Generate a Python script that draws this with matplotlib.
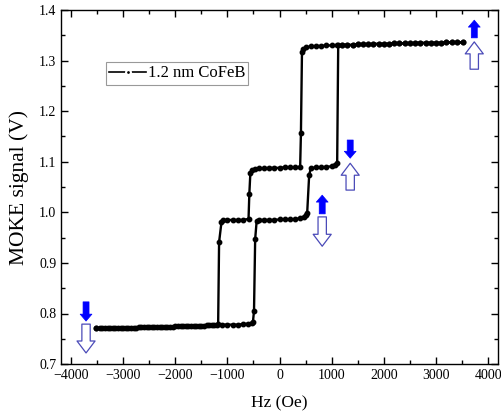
import matplotlib
matplotlib.use("Agg")
import matplotlib.pyplot as plt
from matplotlib.lines import Line2D
from matplotlib.ticker import MultipleLocator

plt.rcParams['font.family'] = ['Liberation Serif', 'DejaVu Serif']

# Rama descendente (de +H a -H)
h_down = [3520, 3400, 3300, 3200, 3100, 3000, 2900, 2800, 2700, 2600, 2500, 2400,
          2300, 2200, 2100, 2000, 1900, 1800, 1700, 1600, 1500, 1400, 1300, 1200,
          1100, 1000, 900, 800, 700, 600, 500, 450, 430,
          410, 395,
          300, 200, 100, 0, -100, -200, -300, -400, -480, -530, -560,
          -580, -595,
          -700, -800, -900, -1000, -1080, -1115,
          -1160, -1178,
          -1250, -1350, -1450, -1550, -1650, -1750, -1850, -1950, -2050, -2150,
          -2250, -2350, -2450, -2550, -2650, -2750, -2850, -2950, -3050, -3150,
          -3250, -3350, -3450, -3520]
m_down = [1.336, 1.336, 1.336, 1.336, 1.335, 1.335, 1.335, 1.335, 1.335, 1.335, 1.334, 1.334,
          1.334, 1.334, 1.333, 1.333, 1.333, 1.333, 1.332, 1.332, 1.332, 1.331, 1.331, 1.331,
          1.330, 1.330, 1.330, 1.329, 1.329, 1.328, 1.326, 1.322, 1.317,
          1.157, 1.090,
          1.089, 1.089, 1.089, 1.088, 1.088, 1.088, 1.087, 1.087, 1.086, 1.084, 1.078,
          1.036, 0.987,
          0.985, 0.985, 0.985, 0.985, 0.984, 0.980,
          0.941, 0.779,
          0.777, 0.777, 0.776, 0.776, 0.776, 0.775, 0.775, 0.775, 0.774, 0.774,
          0.774, 0.773, 0.773, 0.773, 0.773, 0.772, 0.772, 0.772, 0.772, 0.772,
          0.771, 0.771, 0.771, 0.771]

# Rama ascendente (de -H a +H)
h_up = [-3520, -3400, -3300, -3200, -3100, -3000, -2900, -2800, -2700, -2600, -2500,
        -2400, -2300, -2200, -2100, -2000, -1900, -1800, -1700, -1600, -1500, -1400,
        -1300, -1200, -1100, -1000, -900, -800, -700, -600, -530, -510,
        -490, -468, -440,
        -400, -300, -200, -100, 0, 100, 200, 300, 400, 460, 500, 530,
        568, 600,
        700, 800, 900, 1000, 1060, 1105,
        1125,
        1200, 1300, 1400, 1500, 1600, 1700, 1800, 1900, 2000, 2100, 2200, 2300,
        2400, 2500, 2600, 2700, 2800, 2900, 3000, 3100, 3200, 3300, 3400, 3520]
m_up = [0.771, 0.771, 0.771, 0.771, 0.772, 0.772, 0.772, 0.772, 0.773, 0.773, 0.773,
        0.773, 0.774, 0.774, 0.774, 0.775, 0.775, 0.775, 0.776, 0.776, 0.776, 0.777,
        0.777, 0.777, 0.778, 0.778, 0.778, 0.778, 0.779, 0.780, 0.781, 0.784,
        0.805, 0.947, 0.982,
        0.985, 0.985, 0.985, 0.985, 0.986, 0.986, 0.986, 0.987, 0.988, 0.991, 0.995, 0.999,
        1.074, 1.087,
        1.089, 1.089, 1.090, 1.091, 1.093, 1.097,
        1.330,
        1.331, 1.331, 1.331, 1.332, 1.332, 1.332, 1.333, 1.333, 1.333, 1.333, 1.334, 1.334,
        1.334, 1.334, 1.335, 1.335, 1.335, 1.335, 1.335, 1.335, 1.336, 1.336, 1.336, 1.336]

# Flechas: (x, y_inicio, y_fin) en coordenadas de datos
flechas_llenas = [(3735, 1.345, 1.380), (1355, 1.143, 1.107), (818, 0.997, 1.034), (-3712, 0.823, 0.785)]
flechas_huecas = [(3735, 1.283, 1.337), (1355, 1.044, 1.097), (818, 0.991, 0.933), (-3712, 0.779, 0.722)]

fig = plt.figure(figsize=(5.01, 4.18), dpi=100)
ax = fig.add_axes([0.122, 0.129, 0.872, 0.847])

ax.plot(h_down, m_down, '-o', color='black', lw=1.7, ms=3.2)
ax.plot(h_up, m_up, '-o', color='black', lw=1.7, ms=3.2)

for x, y0, y1 in flechas_huecas:
    ax.annotate('', xy=(x, y1), xytext=(x, y0),
                arrowprops=dict(arrowstyle='simple,head_length=0.86,head_width=1.3,tail_width=0.6',
                                fc='white', ec='#4a4ab8', lw=0.9, shrinkA=0, shrinkB=0,
                                mutation_scale=10))
for x, y0, y1 in flechas_llenas:
    ax.annotate('', xy=(x, y1), xytext=(x, y0),
                arrowprops=dict(arrowstyle='simple,head_length=0.5,head_width=0.85,tail_width=0.43',
                                fc='#0000ff', ec='#0000ff', lw=0.5, shrinkA=0, shrinkB=0,
                                mutation_scale=10))

ax.set_xlim(-4190, 4190)
ax.set_ylim(0.7, 1.4)
ax.xaxis.set_major_locator(MultipleLocator(1000))
ax.xaxis.set_minor_locator(MultipleLocator(500))
ax.yaxis.set_major_locator(MultipleLocator(0.1))
ax.yaxis.set_minor_locator(MultipleLocator(0.05))
ax.tick_params(which='both', direction='in', top=True, right=True, labelsize=10)
ax.tick_params(which='major', length=5, width=1)
ax.tick_params(which='minor', length=3, width=1)
ax.set_yticks([0.7, 0.8, 0.9, 1.0, 1.1, 1.2, 1.3, 1.4])
ax.set_yticklabels(['0.7', '0.8', '0.9', '1.0', '1.1', '1.2', '1.3', '1.4'])
for s in ax.spines.values():
    s.set_linewidth(1)

ax.set_xlabel('Hz (Oe)', fontsize=12.5, labelpad=10)
ax.set_ylabel('MOKE signal (V)', fontsize=15.5, labelpad=7)

handle = Line2D([], [], color='black', lw=1.2, marker='o', ms=3.5, mec='white', mew=1.5, mfc='black')
leg = ax.legend([handle], ['1.2 nm CoFeB'], loc='upper left', bbox_to_anchor=(0.103, 0.853),
                borderaxespad=0, fancybox=False, edgecolor='#808080', fontsize=12,
                handlelength=2.2, handletextpad=0.1, borderpad=0.2, numpoints=1)
leg.get_frame().set_linewidth(0.8)

fig.savefig('out.png', dpi=100)
